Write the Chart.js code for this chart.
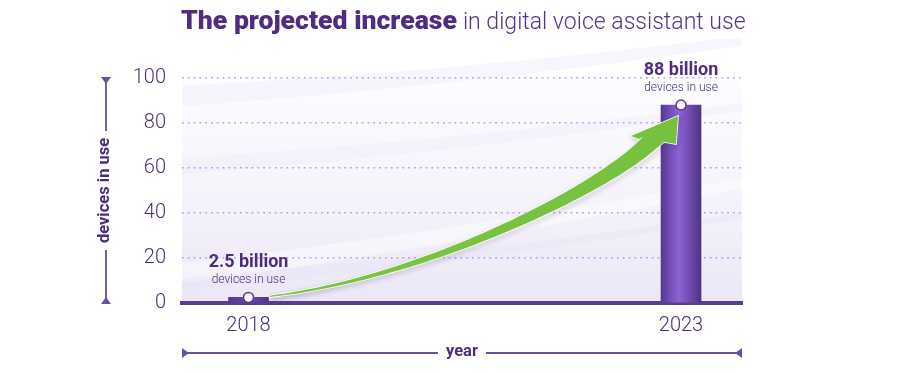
<!DOCTYPE html>
<html><head><meta charset="utf-8">
<script src="https://cdn.jsdelivr.net/npm/chart.js@4.4.1/dist/chart.umd.min.js"></script>
<style>html,body{margin:0;padding:0;background:#fff;}#wrap{width:915px;height:373px;}</style>
</head><body><div id="wrap"><canvas id="c" width="915" height="373"></canvas></div>
<script>
// ---- data ----
const years = [2018, 2023];
const devicesBillions = [2.5, 88];
const valueLabels = ['2.5 billion', '88 billion'];
const subLabel = 'devices in use';
const yTickValues = [0, 20, 40, 60, 80, 100];
const xTickValues = [2018, 2023];
const titleBold = 'The projected increase';
const titleLight = 'in digital voice assistant use';
const yAxisTitle = 'devices in use';
const xAxisTitle = 'year';

const PURPLE = '#4b2e7e';
const LINE_PURPLE = '#6a4f9c';
const FONT = 'Roboto, "Liberation Sans", sans-serif';

const barData = years.map((y, i) => ({x: y, y: devicesBillions[i]}));

function barGradient(ctx) {
  const chart = ctx.chart, xs = chart.scales.x;
  if (!xs || ctx.type !== 'data' || !isFinite(xs.left)) return '#6a46ad';
  const cx = xs.getPixelForValue(years[ctx.dataIndex]);
  const g = chart.ctx.createLinearGradient(cx - 20, 0, cx + 20, 0);
  if (ctx.dataIndex === 0) {
    g.addColorStop(0, '#55378f'); g.addColorStop(0.5, '#6a47aa'); g.addColorStop(1, '#52358b');
  } else {
    g.addColorStop(0, '#573893'); g.addColorStop(0.45, '#8e63d4'); g.addColorStop(1, '#4f3386');
  }
  return g;
}

const bgPlugin = {
  id: 'bg',
  beforeDraw(chart) {
    const {ctx, chartArea: a} = chart;
    ctx.save();
    ctx.fillStyle = '#ffffff';
    ctx.fillRect(0, 0, chart.width, chart.height);
    const g = ctx.createLinearGradient(0, a.top, 0, a.bottom);
    g.addColorStop(0, '#fdfcff');
    g.addColorStop(0.5, '#f6f4fb');
    g.addColorStop(1, '#ebe7f5');
    ctx.fillStyle = g;
    ctx.fillRect(a.left, a.top, a.right - a.left, a.bottom - a.top);
    ctx.beginPath();
    ctx.rect(a.left, a.top - 40, a.right - a.left, a.bottom - a.top + 40);
    ctx.clip();
    const bands = [
      [[a.left, a.top + 8], [a.right, a.top - 42], 10, 'rgba(240,237,249,0.5)'],
      [[a.left, a.top + 80], [a.right, a.top + 25], 8, 'rgba(238,234,248,0.45)'],
      [[a.left, a.top + 185], [a.right, a.top + 100], 10, 'rgba(255,255,255,0.45)'],
      [[a.left, a.top + 200], [a.right, a.top + 135], 6, 'rgba(230,225,245,0.35)']
    ];
    bands.forEach(([p, q, w, c]) => {
      ctx.beginPath();
      ctx.moveTo(p[0], p[1]);
      ctx.quadraticCurveTo((p[0] + q[0]) / 2, (p[1] + q[1]) / 2 + 10, q[0], q[1]);
      ctx.lineTo(q[0], q[1] + w);
      ctx.quadraticCurveTo((p[0] + q[0]) / 2, (p[1] + q[1]) / 2 + 10 + w * 1.5, p[0], p[1] + w * 2);
      ctx.closePath();
      ctx.fillStyle = c;
      ctx.fill();
    });
    ctx.restore();
  }
};

function cubic(p0, p1, p2, p3, t) {
  const u = 1 - t;
  return [
    u*u*u*p0[0] + 3*u*u*t*p1[0] + 3*u*t*t*p2[0] + t*t*t*p3[0],
    u*u*u*p0[1] + 3*u*u*t*p1[1] + 3*u*t*t*p2[1] + t*t*t*p3[1]
  ];
}

const arrowPlugin = {
  id: 'arrow',
  afterDatasetDraw(chart, args) {
    if (args.index !== 0) return;
    const {ctx} = chart, xs = chart.scales.x, ys = chart.scales.y;
    const ax = xs.getPixelForValue(years[0]) + 21, ay = ys.getPixelForValue(devicesBillions[0]);
    const bx = xs.getPixelForValue(years[1]), by = ys.getPixelForValue(devicesBillions[1]);
    const P0 = [ax, ay - 1];
    const P3 = [bx - 29.5, by + 35.5];
    const P1 = [P0[0] + 160, P0[1] - 19];
    const P2 = [P3[0] - 41, P3[1] + 44];
    const N = 60, up = [], lo = [];
    for (let i = 0; i <= N; i++) {
      const t = i / N;
      const p = cubic(P0, P1, P2, P3, t);
      const q = cubic(P0, P1, P2, P3, Math.min(1, t + 0.001));
      const r = cubic(P0, P1, P2, P3, Math.max(0, t - 0.001));
      let dx = q[0] - r[0], dy = q[1] - r[1];
      const L = Math.hypot(dx, dy); dx /= L; dy /= L;
      const nx = -dy, ny = dx;
      const w = 0.7 + 8.3 * Math.pow(t, 1.2);
      up.push([p[0] - nx * w, p[1] - ny * w]);
      lo.push([p[0] + nx * w, p[1] + ny * w]);
    }
    up[N] = [bx - 42, by + 34];
    lo[N] = [bx - 17, by + 37];
    ctx.save();
    ctx.beginPath();
    ctx.moveTo(up[0][0], up[0][1]);
    for (let i = 1; i <= N; i++) ctx.lineTo(up[i][0], up[i][1]);
    ctx.lineTo(bx - 50, by + 31);
    ctx.lineTo(bx - 3, by + 11);
    ctx.lineTo(bx - 5, by + 39);
    for (let i = N; i >= 0; i--) ctx.lineTo(lo[i][0], lo[i][1]);
    ctx.closePath();
    ctx.shadowColor = 'rgba(40,20,70,0.35)';
    ctx.shadowBlur = 5;
    ctx.shadowOffsetX = 1;
    ctx.shadowOffsetY = 2;
    ctx.lineJoin = 'miter';
    ctx.strokeStyle = '#ffffff';
    ctx.lineWidth = 1.6;
    ctx.stroke();
    ctx.shadowColor = 'transparent';
    const g = ctx.createLinearGradient(ax, ay, bx, by);
    g.addColorStop(0, '#7cc444');
    g.addColorStop(1, '#76c13f');
    ctx.fillStyle = g;
    ctx.fill();
    ctx.restore();
  }
};

const decoPlugin = {
  id: 'deco',
  afterDraw(chart) {
    const {ctx, chartArea: a} = chart, xs = chart.scales.x, ys = chart.scales.y;
    ctx.save();
    // title
    const ty = 29;
    let sb = 25;
    ctx.font = `900 ${sb}px ${FONT}`;
    sb = Math.max(20, Math.min(28, sb * 276 / ctx.measureText(titleBold).width));
    ctx.font = `900 ${sb}px ${FONT}`;
    ctx.fillStyle = '#4f2c82';
    ctx.textAlign = 'left'; ctx.textBaseline = 'alphabetic';
    ctx.fillText(titleBold, 181, ty);
    const bw = ctx.measureText(titleBold).width;
    let sl = 25;
    ctx.font = `300 ${sl}px ${FONT}`;
    sl = Math.max(20, Math.min(28, sl * 283 / ctx.measureText(titleLight).width));
    ctx.font = `300 ${sl}px ${FONT}`;
    ctx.fillStyle = '#54358a';
    ctx.fillText(titleLight, 181 + bw + 6, ty);

    // value labels
    ctx.textAlign = 'center'; ctx.textBaseline = 'middle';
    years.forEach((yr, i) => {
      const px = xs.getPixelForValue(yr), py = ys.getPixelForValue(devicesBillions[i]);
      ctx.font = `700 18px ${FONT}`;
      ctx.fillStyle = '#4f2c82';
      ctx.fillText(valueLabels[i], px, py - 35);
      ctx.font = `300 12px ${FONT}`;
      ctx.fillStyle = '#4b2e7e';
      ctx.fillText(subLabel, px, py - 17);
    });

    // y axis title with arrow line
    ctx.strokeStyle = LINE_PURPLE; ctx.fillStyle = LINE_PURPLE; ctx.lineWidth = 1.8;
    const lx = 106, top = a.top - 1, bot = a.bottom + 1, cy = (a.top + a.bottom) / 2;
    ctx.font = `700 16.5px ${FONT}`;
    const yw = ctx.measureText(yAxisTitle).width;
    ctx.beginPath();
    ctx.moveTo(lx - 5, top); ctx.lineTo(lx + 5, top); ctx.lineTo(lx, top + 7); ctx.closePath(); ctx.fill();
    ctx.beginPath();
    ctx.moveTo(lx - 5, bot); ctx.lineTo(lx + 5, bot); ctx.lineTo(lx, bot - 7); ctx.closePath(); ctx.fill();
    ctx.beginPath();
    ctx.moveTo(lx, top + 5); ctx.lineTo(lx, cy - yw / 2 - 7);
    ctx.moveTo(lx, cy + yw / 2 + 7); ctx.lineTo(lx, bot - 5);
    ctx.stroke();
    ctx.save();
    ctx.translate(lx - 1, cy);
    ctx.rotate(-Math.PI / 2);
    ctx.fillStyle = PURPLE;
    ctx.fillText(yAxisTitle, 0, 0);
    ctx.restore();

    // x axis title with arrow line
    const ly = 353, l = a.left, r = a.right, cx = (l + r) / 2;
    const xw = ctx.measureText(xAxisTitle).width;
    ctx.fillStyle = LINE_PURPLE;
    ctx.beginPath();
    ctx.moveTo(l, ly - 5); ctx.lineTo(l, ly + 5); ctx.lineTo(l + 7, ly); ctx.closePath(); ctx.fill();
    ctx.beginPath();
    ctx.moveTo(r, ly - 5); ctx.lineTo(r, ly + 5); ctx.lineTo(r - 7, ly); ctx.closePath(); ctx.fill();
    ctx.beginPath();
    ctx.moveTo(l + 5, ly); ctx.lineTo(cx - xw / 2 - 8, ly);
    ctx.moveTo(cx + xw / 2 + 8, ly); ctx.lineTo(r - 5, ly);
    ctx.stroke();
    ctx.fillStyle = PURPLE;
    ctx.fillText(xAxisTitle, cx, ly - 1);
    ctx.restore();
  }
};

new Chart(document.getElementById('c'), {
  data: {
    datasets: [
      {
        type: 'bar',
        data: barData,
        backgroundColor: barGradient,
        borderWidth: 0,
        barThickness: 40,
        order: 2
      },
      {
        type: 'scatter',
        data: barData,
        pointRadius: 5,
        pointBackgroundColor: '#ffffff',
        pointBorderColor: '#5a3a8f',
        pointBorderWidth: 1.5,
        order: 1
      }
    ]
  },
  options: {
    responsive: false,
    animation: false,
    devicePixelRatio: 1,
    layout: {padding: {left: 112, right: 173, top: 78, bottom: 40}},
    plugins: {legend: {display: false}, tooltip: {enabled: false}, title: {display: false}},
    scales: {
      x: {
        type: 'linear',
        offset: false,
        min: 2017.231,
        max: 2023.705,
        afterFit(s) { s.height = 30; },
        afterBuildTicks(s) { s.ticks = xTickValues.map(v => ({value: v})); },
        ticks: {
          padding: 11,
          autoSkip: false,
          maxRotation: 0,
          color: PURPLE,
          font: {family: FONT, size: 20, weight: '300'},
          callback: v => String(v)
        },
        grid: {display: true, drawTicks: false, offset: false, color: 'rgba(0,0,0,0)'},
        border: {display: true, color: '#5a3c90', width: 4}
      },
      y: {
        min: 0,
        max: 100,
        afterFit(s) { s.width = 70; },
        afterBuildTicks(s) { s.ticks = yTickValues.map(v => ({value: v})); },
        ticks: {
          padding: 16,
          color: PURPLE,
          font: {family: FONT, size: 20, weight: '300'}
        },
        grid: {
          drawTicks: false,
          lineWidth: 1.6,
          color: c => (c.tick && c.tick.value === 0) ? 'rgba(0,0,0,0)' : 'rgba(160,140,238,0.85)'
        },
        border: {display: false, dash: [1.7, 4.1]}
      }
    }
  },
  plugins: [bgPlugin, arrowPlugin, decoPlugin]
});
</script>
</body></html>
